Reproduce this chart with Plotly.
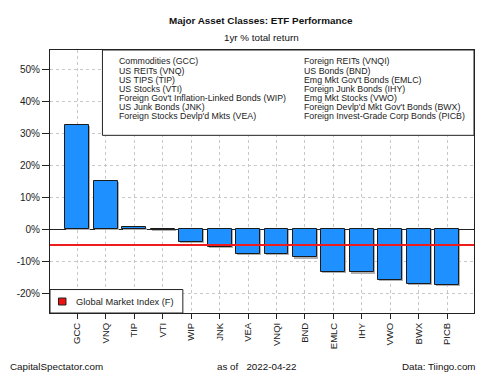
import plotly.graph_objects as go

tickers = ["GCC", "VNQ", "TIP", "VTI", "WIP", "JNK", "VEA", "VNQI", "BND", "EMLC", "IHY", "VWO", "BWX", "PICB"]
returns = [32.8, 15.3, 0.9, 0.05, -4.0, -5.5, -7.6, -7.6, -8.8, -13.4, -13.5, -15.9, -17.0, -17.5]
global_index = -4.9
names_left = ["Commodities (GCC)", "US REITs (VNQ)", "US TIPS (TIP)", "US Stocks (VTI)",
              "Foreign Gov't Inflation-Linked Bonds (WIP)", "US Junk Bonds (JNK)",
              "Foreign Stocks Devlp'd Mkts (VEA)"]
names_right = ["Foreign REITs (VNQI)", "US Bonds (BND)", "Emg Mkt Gov't Bonds (EMLC)",
               "Foreign Junk Bonds (IHY)", "Emg Mkt Stocks (VWO)",
               "Foreign Devlp'd Mkt Gov't Bonds (BWX)", "Foreign Invest-Grade Corp Bonds (PICB)"]
y_ticks = [-20, -10, 0, 10, 20, 30, 40, 50]
y_labels = ["-20%", "-10%", "0%", "10%", "20%", "30%", "40%", "50%"]

FONT = "Liberation Sans, Arial, sans-serif"
L, R, T, B = 49.5, 474.0, 49.5, 313.0
W, H = R - L, B - T


def px(x):
    return (x - L) / W


def py(y):
    return (B - y) / H


xs = list(range(len(tickers)))
fig = go.Figure()
# soft drop shadow behind each bar
shadow_dx, shadow_dy = 0.035, 0.35
fig.add_trace(go.Bar(x=[i + shadow_dx for i in xs], y=returns, base=[-shadow_dy] * len(xs), width=0.84,
                     marker=dict(color="#b0b0b0", line=dict(width=0)),
                     showlegend=False, hoverinfo="skip"))
fig.add_trace(go.Bar(x=xs, y=returns, width=0.84,
                     marker=dict(color="#1E90FF", line=dict(color="#1a1a1a", width=1)),
                     showlegend=False, hoverinfo="skip"))

fig.update_layout(
    width=500, height=375,
    margin=dict(l=L, r=500 - R, t=T, b=375 - B, autoexpand=False),
    paper_bgcolor="white", plot_bgcolor="white",
    font=dict(family=FONT, size=9, color="#222"),
    bargap=0, barmode="overlay",
    xaxis=dict(range=[-0.96, 13.94], tickvals=xs, ticktext=tickers, tickangle=-90,
               ticks="outside", ticklen=5, tickcolor="#222", automargin=False,
               showgrid=True, gridcolor="#c8c8c8", griddash="dot", gridwidth=1,
               showline=True, linecolor="#222", linewidth=1, mirror=True,
               zeroline=False, tickfont=dict(size=9.5, family=FONT, color="#222")),
    yaxis=dict(range=[-26.2, 56.2], tickvals=y_ticks, ticktext=y_labels,
               ticks="outside", ticklen=7, tickcolor="#222", automargin=False,
               showgrid=True, gridcolor="#c8c8c8", griddash="dot", gridwidth=1,
               showline=True, linecolor="#222", linewidth=1, mirror=True,
               zeroline=True, zerolinecolor="#222", zerolinewidth=1,
               tickfont=dict(size=10, family=FONT, color="#222")),
)

shapes = []
shapes.append(dict(type="line", xref="paper", yref="y", x0=0, x1=1, y0=global_index, y1=global_index,
                   line=dict(color="#EE1C1C", width=2), layer="above"))
shapes.append(dict(type="rect", xref="paper", yref="paper", x0=px(102), x1=1, y0=py(135), y1=1,
                   fillcolor="white", line=dict(color="#222", width=1), layer="above"))
shapes.append(dict(type="rect", xref="paper", yref="paper", x0=0, x1=px(182.5), y0=0, y1=py(289.5),
                   fillcolor="white", line=dict(color="#222", width=1), layer="above"))
shapes.append(dict(type="rect", xref="paper", yref="paper", x0=px(58), x1=px(65.5), y0=py(305), y1=py(298),
                   fillcolor="#EE1111", line=dict(color="#222", width=1), layer="above"))
fig.update_layout(shapes=shapes)

ann = []
row_y = [61, 70.5, 79.7, 88.7, 97.5, 106.5, 115.7]
for i, (a, b) in enumerate(zip(names_left, names_right)):
    ann.append(dict(text=a, x=px(117), y=py(row_y[i]), xref="paper", yref="paper",
                    xanchor="left", yanchor="middle", showarrow=False,
                    font=dict(size=8.8, family=FONT, color="#222")))
    ann.append(dict(text=b, x=px(301.5), y=py(row_y[i]), xref="paper", yref="paper",
                    xanchor="left", yanchor="middle", showarrow=False,
                    font=dict(size=8.8, family=FONT, color="#222")))
ann.append(dict(text="Global Market Index (F)", x=px(74), y=py(301.5), xref="paper", yref="paper",
                xanchor="left", yanchor="middle", showarrow=False,
                font=dict(size=9.3, family=FONT, color="#222")))
extra = [
    dict(text="<b>Major Asset Classes: ETF Performance</b>", x=261, y=20, xanchor="center",
         font=dict(size=9.9, family=FONT, color="#111")),
    dict(text="1yr % total return", x=261, y=37, xanchor="center",
         font=dict(size=9.8, family=FONT, color="#111")),
    dict(text="CapitalSpectator.com", x=7, y=367, xanchor="left",
         font=dict(size=9.8, family=FONT, color="#111")),
    dict(text="as of   2022-04-22", x=257, y=367, xanchor="center",
         font=dict(size=9.8, family=FONT, color="#111")),
    dict(text="Data: Tiingo.com", x=478, y=367, xanchor="right",
         font=dict(size=9.8, family=FONT, color="#111")),
]
for a in extra:
    a.update(xref="paper", yref="paper", x=px(a["x"]), y=py(a["y"]), yanchor="middle", showarrow=False)
    ann.append(a)
fig.update_layout(annotations=ann)

fig.write_html("out.html", config={"displayModeBar": False},
               post_script="document.body.style.margin='0';document.body.style.overflow='hidden';")
